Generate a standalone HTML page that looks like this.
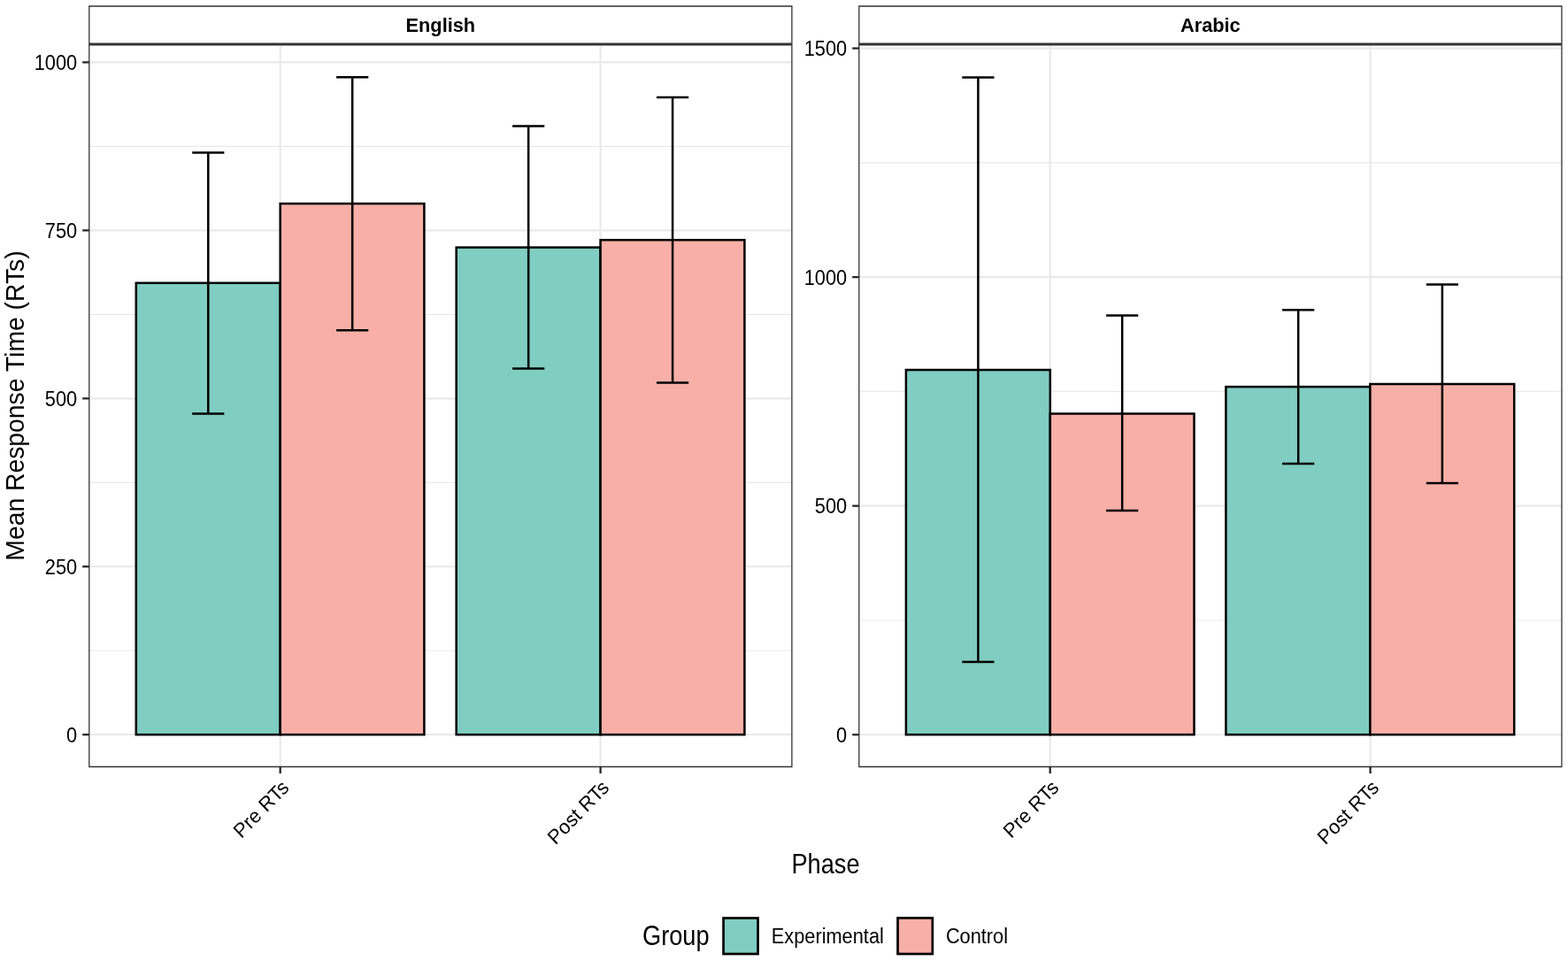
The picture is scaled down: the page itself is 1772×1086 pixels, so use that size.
<!DOCTYPE html><html><head><meta charset="utf-8"><title>Mean Response Time by Phase</title>
<style>html,body{margin:0;padding:0;background:#fff;}svg{display:block;}text{font-family:"Liberation Sans",Arial,Helvetica,sans-serif;fill:#000;}</style></head><body>
<svg width="1772" height="1086" viewBox="0 0 1772 1086">
<rect x="0" y="0" width="1772" height="1086" fill="#ffffff"/>
<line x1="100.8" y1="735.23" x2="894.9" y2="735.23" stroke="#E9E9E9" stroke-width="1.2"/>
<line x1="100.8" y1="545.28" x2="894.9" y2="545.28" stroke="#E9E9E9" stroke-width="1.2"/>
<line x1="100.8" y1="355.33" x2="894.9" y2="355.33" stroke="#E9E9E9" stroke-width="1.2"/>
<line x1="100.8" y1="165.38" x2="894.9" y2="165.38" stroke="#E9E9E9" stroke-width="1.2"/>
<line x1="100.8" y1="830.20" x2="894.9" y2="830.20" stroke="#E9E9E9" stroke-width="2.2"/>
<line x1="100.8" y1="640.25" x2="894.9" y2="640.25" stroke="#E9E9E9" stroke-width="2.2"/>
<line x1="100.8" y1="450.30" x2="894.9" y2="450.30" stroke="#E9E9E9" stroke-width="2.2"/>
<line x1="100.8" y1="260.35" x2="894.9" y2="260.35" stroke="#E9E9E9" stroke-width="2.2"/>
<line x1="100.8" y1="70.40" x2="894.9" y2="70.40" stroke="#E9E9E9" stroke-width="2.2"/>
<line x1="316.7" y1="50.1" x2="316.7" y2="866.5" stroke="#E9E9E9" stroke-width="2.2"/>
<line x1="678.6" y1="50.1" x2="678.6" y2="866.5" stroke="#E9E9E9" stroke-width="2.2"/>
<rect x="153.8" y="319.8" width="162.90" height="510.40" fill="#80CDC1" stroke="#000" stroke-width="2.5"/>
<rect x="316.7" y="230.1" width="162.70" height="600.10" fill="#F8AFA8" stroke="#000" stroke-width="2.5"/>
<rect x="515.7" y="279.6" width="162.90" height="550.60" fill="#80CDC1" stroke="#000" stroke-width="2.5"/>
<rect x="678.6" y="271.2" width="162.80" height="559.00" fill="#F8AFA8" stroke="#000" stroke-width="2.5"/>
<path d="M217.20 172.4H253.40M235.3 172.4V467.5M217.20 467.5H253.40" fill="none" stroke="#000" stroke-width="2.5"/>
<path d="M380.10 87.2H416.30M398.2 87.2V373.3M380.10 373.3H416.30" fill="none" stroke="#000" stroke-width="2.5"/>
<path d="M579.10 142.4H615.30M597.2 142.4V416.4M579.10 416.4H615.30" fill="none" stroke="#000" stroke-width="2.5"/>
<path d="M742.00 109.9H778.20M760.1 109.9V432.4M742.00 432.4H778.20" fill="none" stroke="#000" stroke-width="2.5"/>
<path d="M100.8 7.0H894.9V866.5H100.8Z" fill="none" stroke="#333333" stroke-width="1.3"/>
<line x1="100.8" y1="50.1" x2="894.9" y2="50.1" stroke="#333333" stroke-width="3.0"/>
<text transform="translate(497.85,35.70) scale(0.99,1.015)" font-size="22" font-weight="bold" text-anchor="middle">English</text>
<line x1="93.2" y1="830.20" x2="100.8" y2="830.20" stroke="#262626" stroke-width="2.3"/>
<text transform="translate(87.10,838.70) scale(0.99,1.09)" font-size="22" text-anchor="end">0</text>
<line x1="93.2" y1="640.25" x2="100.8" y2="640.25" stroke="#262626" stroke-width="2.3"/>
<text transform="translate(87.10,648.75) scale(0.99,1.09)" font-size="22" text-anchor="end">250</text>
<line x1="93.2" y1="450.30" x2="100.8" y2="450.30" stroke="#262626" stroke-width="2.3"/>
<text transform="translate(87.10,458.80) scale(0.99,1.09)" font-size="22" text-anchor="end">500</text>
<line x1="93.2" y1="260.35" x2="100.8" y2="260.35" stroke="#262626" stroke-width="2.3"/>
<text transform="translate(87.10,268.85) scale(0.99,1.09)" font-size="22" text-anchor="end">750</text>
<line x1="93.2" y1="70.40" x2="100.8" y2="70.40" stroke="#262626" stroke-width="2.3"/>
<text transform="translate(87.10,78.90) scale(0.99,1.09)" font-size="22" text-anchor="end">1000</text>
<line x1="316.7" y1="866.5" x2="316.7" y2="874.1" stroke="#262626" stroke-width="2.3"/>
<text transform="translate(327.70,891.40) scale(1,1.035) rotate(-45)" font-size="22" text-anchor="end">Pre RTs</text>
<line x1="678.6" y1="866.5" x2="678.6" y2="874.1" stroke="#262626" stroke-width="2.3"/>
<text transform="translate(689.60,891.40) scale(1,1.035) rotate(-45)" font-size="22" text-anchor="end">Post RTs</text>
<line x1="970.8" y1="700.98" x2="1764.9" y2="700.98" stroke="#E9E9E9" stroke-width="1.2"/>
<line x1="970.8" y1="442.43" x2="1764.9" y2="442.43" stroke="#E9E9E9" stroke-width="1.2"/>
<line x1="970.8" y1="183.88" x2="1764.9" y2="183.88" stroke="#E9E9E9" stroke-width="1.2"/>
<line x1="970.8" y1="830.25" x2="1764.9" y2="830.25" stroke="#E9E9E9" stroke-width="2.2"/>
<line x1="970.8" y1="571.70" x2="1764.9" y2="571.70" stroke="#E9E9E9" stroke-width="2.2"/>
<line x1="970.8" y1="313.15" x2="1764.9" y2="313.15" stroke="#E9E9E9" stroke-width="2.2"/>
<line x1="970.8" y1="54.60" x2="1764.9" y2="54.60" stroke="#E9E9E9" stroke-width="2.2"/>
<line x1="1186.7" y1="50.1" x2="1186.7" y2="866.5" stroke="#E9E9E9" stroke-width="2.2"/>
<line x1="1548.6" y1="50.1" x2="1548.6" y2="866.5" stroke="#E9E9E9" stroke-width="2.2"/>
<rect x="1023.9" y="418.0" width="162.90" height="412.20" fill="#80CDC1" stroke="#000" stroke-width="2.5"/>
<rect x="1186.8" y="467.5" width="162.70" height="362.70" fill="#F8AFA8" stroke="#000" stroke-width="2.5"/>
<rect x="1385.4" y="437.1" width="163.00" height="393.10" fill="#80CDC1" stroke="#000" stroke-width="2.5"/>
<rect x="1548.4" y="434.0" width="162.80" height="396.20" fill="#F8AFA8" stroke="#000" stroke-width="2.5"/>
<path d="M1087.30 87.5H1123.50M1105.4 87.5V747.9M1087.30 747.9H1123.50" fill="none" stroke="#000" stroke-width="2.5"/>
<path d="M1250.10 356.4H1286.30M1268.2 356.4V576.9M1250.10 576.9H1286.30" fill="none" stroke="#000" stroke-width="2.5"/>
<path d="M1449.10 350.3H1485.30M1467.2 350.3V524.0M1449.10 524.0H1485.30" fill="none" stroke="#000" stroke-width="2.5"/>
<path d="M1611.80 321.5H1648.00M1629.9 321.5V546.1M1611.80 546.1H1648.00" fill="none" stroke="#000" stroke-width="2.5"/>
<path d="M970.8 7.0H1764.9V866.5H970.8Z" fill="none" stroke="#333333" stroke-width="1.3"/>
<line x1="970.8" y1="50.1" x2="1764.9" y2="50.1" stroke="#333333" stroke-width="3.0"/>
<text transform="translate(1367.85,35.70) scale(0.99,1.015)" font-size="22" font-weight="bold" text-anchor="middle">Arabic</text>
<line x1="963.1999999999999" y1="830.25" x2="970.8" y2="830.25" stroke="#262626" stroke-width="2.3"/>
<text transform="translate(957.10,838.75) scale(0.99,1.09)" font-size="22" text-anchor="end">0</text>
<line x1="963.1999999999999" y1="571.70" x2="970.8" y2="571.70" stroke="#262626" stroke-width="2.3"/>
<text transform="translate(957.10,580.20) scale(0.99,1.09)" font-size="22" text-anchor="end">500</text>
<line x1="963.1999999999999" y1="313.15" x2="970.8" y2="313.15" stroke="#262626" stroke-width="2.3"/>
<text transform="translate(957.10,321.65) scale(0.99,1.09)" font-size="22" text-anchor="end">1000</text>
<line x1="963.1999999999999" y1="54.60" x2="970.8" y2="54.60" stroke="#262626" stroke-width="2.3"/>
<text transform="translate(957.10,63.10) scale(0.99,1.09)" font-size="22" text-anchor="end">1500</text>
<line x1="1186.7" y1="866.5" x2="1186.7" y2="874.1" stroke="#262626" stroke-width="2.3"/>
<text transform="translate(1197.70,891.40) scale(1,1.035) rotate(-45)" font-size="22" text-anchor="end">Pre RTs</text>
<line x1="1548.6" y1="866.5" x2="1548.6" y2="874.1" stroke="#262626" stroke-width="2.3"/>
<text transform="translate(1559.60,891.40) scale(1,1.035) rotate(-45)" font-size="22" text-anchor="end">Post RTs</text>
<text transform="translate(933.00,986.70) scale(0.99,1.17)" font-size="27.5" text-anchor="middle">Phase</text>
<text transform="translate(26.60,458.50) rotate(-90) scale(1.03,1.047)" font-size="27.5" text-anchor="middle">Mean Response Time (RTs)</text>
<text transform="translate(726.00,1067.70) scale(0.99,1.17)" font-size="27.5">Group</text>
<rect x="817.55" y="1037.5" width="39.0" height="40.5" fill="#80CDC1" stroke="#000" stroke-width="2.7"/>
<text transform="translate(871.80,1065.70) scale(0.99,1.09)" font-size="22">Experimental</text>
<rect x="1014.55" y="1037.4" width="39.3" height="40.6" fill="#F8AFA8" stroke="#000" stroke-width="2.7"/>
<text transform="translate(1068.90,1065.70) scale(0.99,1.09)" font-size="22">Control</text>
</svg></body></html>
